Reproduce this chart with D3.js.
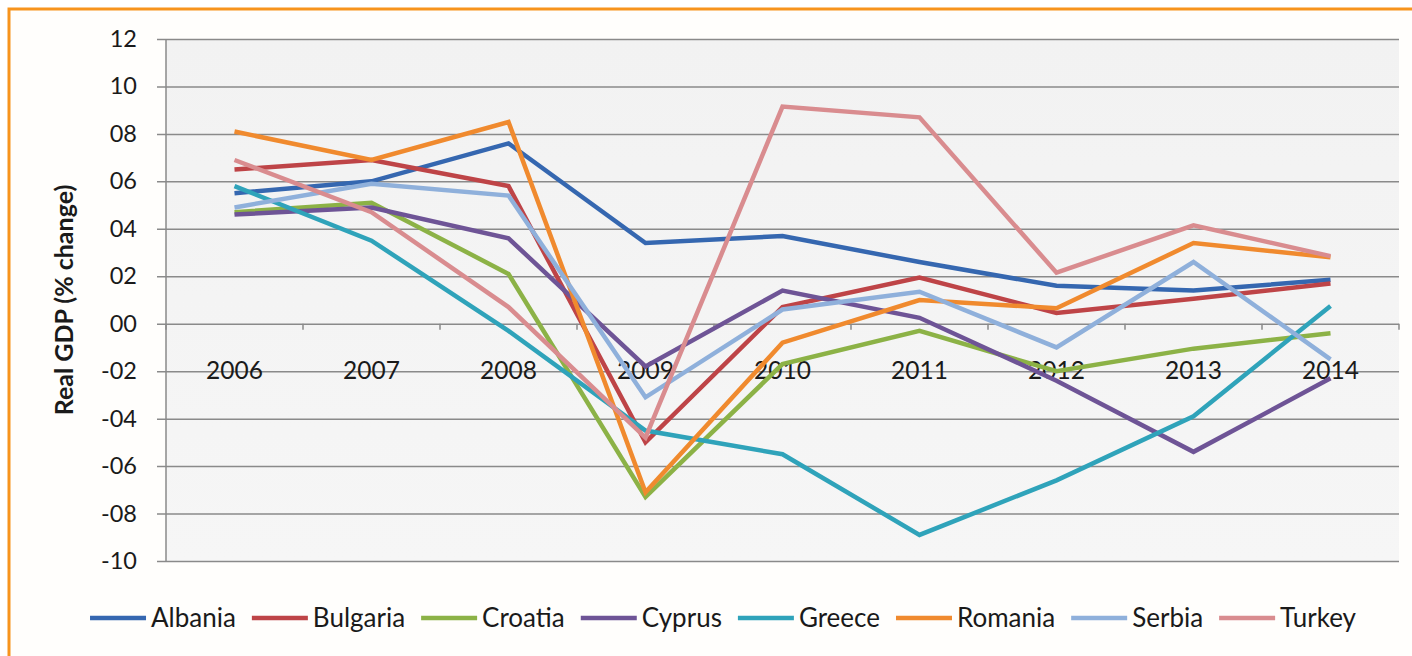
<!DOCTYPE html>
<html>
<head>
<meta charset="utf-8">
<script src="https://cdn.jsdelivr.net/npm/d3@7/dist/d3.min.js"></script>
<style>
html,body{margin:0;padding:0;background:#fff;}
svg{display:block;}
text{font-family:Lato,"Open Sans","DejaVu Sans",sans-serif;fill:#1a1a1a;}
</style>
</head>
<body>
<svg id="chart" width="1412" height="656"></svg>
<script>
const years = ["2006","2007","2008","2009","2010","2011","2012","2013","2014"];
const countries = ["Albania","Bulgaria","Croatia","Cyprus","Greece","Romania","Serbia","Turkey"];
const albania  = [5.5, 6.0, 7.6, 3.4, 3.7, 2.6, 1.6, 1.4, 1.85];
const bulgaria = [6.5, 6.9, 5.8, -5.0, 0.7, 1.95, 0.45, 1.05, 1.7];
const croatia  = [4.7, 5.1, 2.1, -7.3, -1.7, -0.3, -2.0, -1.05, -0.4];
const cyprus   = [4.6, 4.9, 3.6, -1.8, 1.4, 0.25, -2.4, -5.4, -2.3];
const greece   = [5.8, 3.5, -0.3, -4.5, -5.5, -8.9, -6.6, -3.9, 0.75];
const romania  = [8.1, 6.9, 8.5, -7.1, -0.8, 1.0, 0.65, 3.4, 2.8];
const serbia   = [4.9, 5.9, 5.4, -3.1, 0.6, 1.35, -1.0, 2.6, -1.5];
const turkey   = [6.9, 4.7, 0.7, -4.8, 9.15, 8.7, 2.15, 4.15, 2.85];
const seriesValues = [albania, bulgaria, croatia, cyprus, greece, romania, serbia, turkey];
const yTicks = [12,10,8,6,4,2,0,-2,-4,-6,-8,-10];
const colors = ["#3567b0","#be4447","#8cb246","#6e5496","#2fa3ba","#f08a2e","#8fb0db","#d98c8f"];
const yTitle = "Real GDP (% change)";

const svg = d3.select("#chart");
const m = {left:166, right:1399, top:39, bottom:561};

// orange frame
svg.append("rect").attr("x",9).attr("y",9).attr("width",1500).attr("height",700)
  .attr("fill","#fffefc").attr("stroke","#f7941d").attr("stroke-width",3);

const x = d3.scaleBand().domain(years).range([m.left,m.right]).paddingInner(0).paddingOuter(0);
const y = d3.scaleLinear().domain([-10,12]).range([m.bottom,m.top]);

// plot background
const grad = svg.append("defs").append("linearGradient").attr("id","bg").attr("x1",0).attr("y1",0).attr("x2",0).attr("y2",1);
grad.append("stop").attr("offset","0%").attr("stop-color","#f2f2f2");
grad.append("stop").attr("offset","100%").attr("stop-color","#f6f6f6");
svg.append("rect").attr("x",m.left).attr("y",m.top).attr("width",m.right-m.left).attr("height",m.bottom-m.top)
  .attr("fill","url(#bg)");

const fmt = v => (v<0?"-":"") + String(Math.abs(v)).padStart(2,"0");

// y axis with gridlines
const yAxis = d3.axisLeft(y).tickValues(yTicks).tickFormat(fmt).tickSize(-(m.right-m.left)).tickPadding(0);
const gy = svg.append("g").attr("transform",`translate(${m.left},0)`).call(yAxis);
gy.select(".domain").remove();
gy.selectAll(".tick line").attr("stroke","#8a8a8a").attr("stroke-width",1.5).attr("x1",-9);
gy.selectAll(".tick text").attr("x",-29).attr("font-size",23.5).attr("fill","#1a1a1a")
  .attr("font-family","Lato,'Open Sans',sans-serif");
svg.append("line").attr("x1",m.left).attr("x2",m.left).attr("y1",m.top).attr("y2",m.bottom)
  .attr("stroke","#8a8a8a").attr("stroke-width",1.5);

// x axis at zero
const gx = svg.append("g").attr("transform",`translate(0,${y(0)})`)
  .call(d3.axisBottom(x).tickSize(0).tickPadding(0));
gx.select(".domain").remove();
gx.selectAll(".tick text").attr("font-size",24.5).attr("fill","#1a1a1a").attr("dy",0).attr("y",55)
  .attr("font-family","Lato,'Open Sans',sans-serif");
// boundary tick marks
const bounds = years.map(d=>x(d)).concat([m.right]);
svg.append("g").selectAll("line").data(bounds).join("line")
  .attr("x1",d=>d).attr("x2",d=>d).attr("y1",y(0)).attr("y2",y(0)+6)
  .attr("stroke","#8a8a8a").attr("stroke-width",1.5);

// lines
const line = d3.line().x((d,i)=>x(years[i])+x.bandwidth()/2).y(d=>y(d));
svg.append("g").selectAll("path").data(seriesValues).join("path")
  .attr("d",d=>line(d)).attr("fill","none")
  .attr("stroke",(d,i)=>colors[i]).attr("stroke-width",4.5)
  .attr("stroke-linejoin","miter").attr("stroke-linecap","butt");

// y title
svg.append("text").attr("transform","translate(73,300) rotate(-90)")
  .attr("text-anchor","middle").attr("font-size",25).attr("font-weight","bold")
  .text(yTitle);

// legend
const lg = svg.append("g");
const items = [];
countries.forEach((c,i)=>{
  const g = lg.append("g");
  g.append("line").attr("x1",0).attr("x2",56).attr("y1",0).attr("y2",0)
    .attr("stroke",colors[i]).attr("stroke-width",4.5);
  const t = g.append("text").attr("x",61).attr("y",9).attr("font-size",26).text(c);
  const w = 61 + t.node().getComputedTextLength();
  items.push({g,w});
});
const gap = 16;
const total = d3.sum(items,d=>d.w) + gap*(items.length-1);
let start = 723 - total/2;
items.forEach(it=>{ it.g.attr("transform",`translate(${start},618)`); start += it.w + gap; });
</script>
</body>
</html>
